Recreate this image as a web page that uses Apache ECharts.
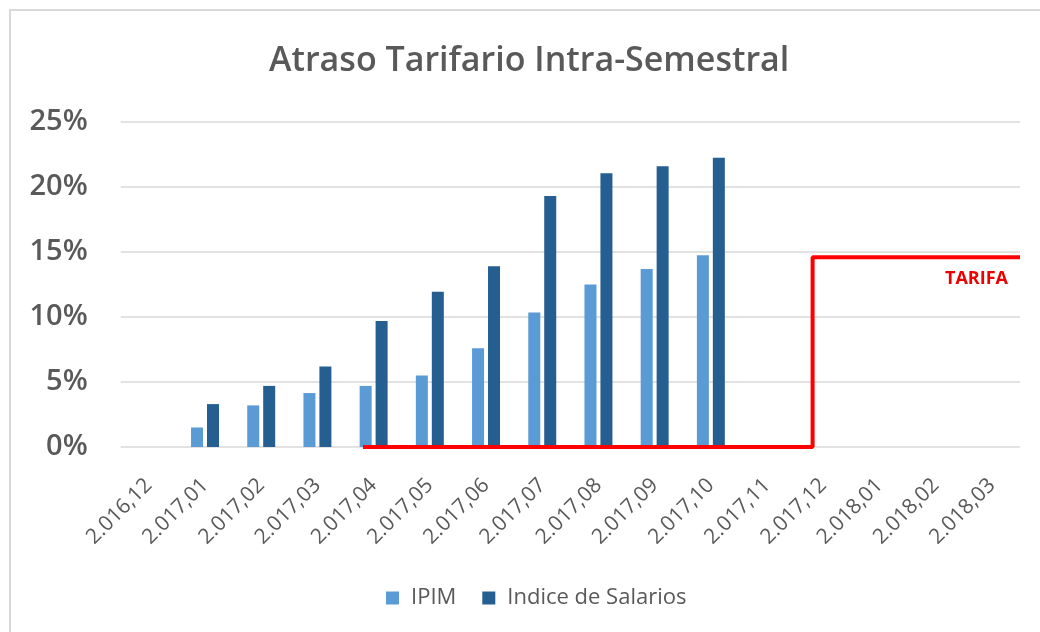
<!DOCTYPE html>
<html>
<head>
<meta charset="utf-8">
<script src="https://cdn.jsdelivr.net/npm/echarts@6/dist/echarts.min.js"></script>
<style>
html,body{margin:0;padding:0;background:#fff;}
#chart{width:1040px;height:632px;}
</style>
</head>
<body>
<div id="chart"></div>
<script>
const categories = ['2.016,12','2.017,01','2.017,02','2.017,03','2.017,04','2.017,05','2.017,06','2.017,07','2.017,08','2.017,09','2.017,10','2.017,11','2.017,12','2.018,01','2.018,02','2.018,03'];
const ipim = [null, 1.5, 3.2, 4.15, 4.7, 5.5, 7.6, 10.35, 12.5, 13.7, 14.75, null, null, null, null, null];
const salarios = [null, 3.3, 4.7, 6.2, 9.7, 11.95, 13.9, 19.3, 21.05, 21.6, 22.25, null, null, null, null, null];
// TARIFA step line, x in category units
const tarifaX = [3.81, 11.81, 11.81, 15.5];
const tarifaY = [0, 0, 14.6, 14.6];
const yTicks = [0, 5, 10, 15, 20, 25];

const chart = echarts.init(document.getElementById('chart'), null, {renderer: 'canvas'});
const font = '"Open Sans", "Noto Sans", sans-serif';
const grey = '#595959';

chart.setOption({
  animation: false,
  backgroundColor: '#fff',
  textStyle: {fontFamily: font},
  title: {
    text: 'Atraso Tarifario Intra-Semestral',
    left: 264, top: 39,
    textStyle: {fontFamily: font, fontSize: 34, fontWeight: 600, color: grey}
  },
  graphic: [{
    type: 'rect', silent: true,
    shape: {x: 10, y: 10, width: 1060, height: 660},
    style: {fill: null, stroke: '#d9d9d9', lineWidth: 2}
  }],
  legend: {
    data: ['IPIM', 'Indice de Salarios'],
    left: 381, top: 582,
    icon: 'rect', itemWidth: 13, itemHeight: 13, itemGap: 26,
    textStyle: {fontFamily: font, fontSize: 22, color: grey, padding: [0, 0, 0, 7]}
  },
  grid: {left: 120.7, right: 20, top: 122, bottom: 185, containLabel: false},
  xAxis: [{
    type: 'category',
    data: categories,
    boundaryGap: true,
    axisLine: {show: false},
    axisTick: {show: false},
    axisLabel: {rotate: 45, margin: 35, fontFamily: font, fontSize: 21, color: grey, interval: 0}
  }, {
    type: 'value', min: -0.5, max: 15.5, show: false
  }],
  yAxis: {
    type: 'value', min: 0, max: 25, interval: 5,
    axisLine: {show: false},
    axisTick: {show: false},
    splitLine: {lineStyle: {color: '#d9d9d9', width: 1.5}},
    axisLabel: {formatter: v => yTicks.includes(v) ? v + '%' : '', margin: 33, fontFamily: font, fontSize: 29, fontWeight: 600, color: grey}
  },
  series: [{
    name: 'IPIM', type: 'bar', data: ipim,
    barWidth: 12, barGap: '33%',
    itemStyle: {color: '#5b9bd5'}
  }, {
    name: 'Indice de Salarios', type: 'bar', data: salarios,
    barWidth: 12, barGap: '33%',
    itemStyle: {color: '#255e91'}
  }, {
    name: 'TARIFA', type: 'line', xAxisIndex: 1,
    data: tarifaX.map((x, i) => [x, tarifaY[i]]),
    symbol: 'none', z: 5,
    lineStyle: {color: '#ff0000', width: 4},
    label: {show: false},
    markPoint: {
      symbol: 'circle', symbolSize: 0,
      data: [{coord: [tarifaX[3], tarifaY[3]], value: 'TARIFA'}],
      label: {show: true, formatter: 'TARIFA', position: 'bottom', align: 'right', offset: [-12, 8],
        fontFamily: font, fontSize: 18, fontWeight: 'bold', color: '#ee0000'}
    }
  }]
});
</script>
</body>
</html>
